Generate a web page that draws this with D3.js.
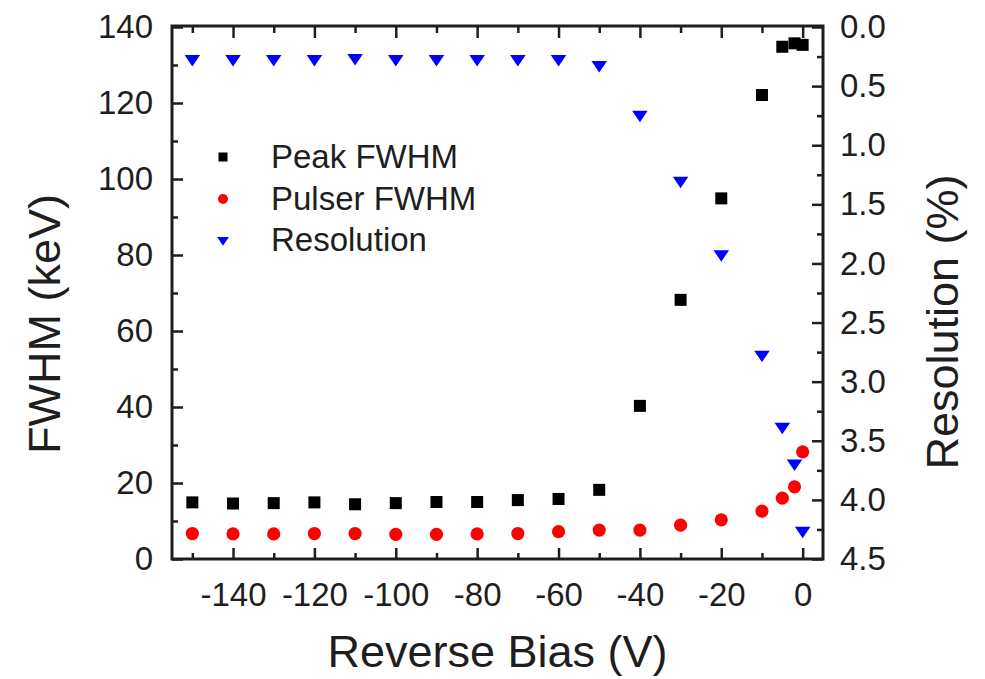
<!DOCTYPE html>
<html>
<head>
<meta charset="utf-8">
<script src="https://cdnjs.cloudflare.com/ajax/libs/d3/7.8.5/d3.min.js"></script>
<style>
  body { margin: 0; background: #fff; }
  text { font-family: "Liberation Sans", Arial, sans-serif; fill: #1e1e1e; }
</style>
</head>
<body>
<div id="chart"></div>
<script>
// data
var bias = [-150, -140, -130, -120, -110, -100, -90, -80, -70, -60, -50, -40, -30, -20, -10, -5, -2, 0];
var peakFWHM = [14.9, 14.6, 14.7, 14.9, 14.4, 14.7, 15.0, 15.0, 15.5, 15.8, 18.2, 40.3, 68.2, 94.9, 122.1, 134.8, 135.7, 135.3];
var pulserFWHM = [6.7, 6.6, 6.6, 6.7, 6.7, 6.5, 6.5, 6.6, 6.7, 7.2, 7.6, 7.6, 8.9, 10.3, 12.6, 16.0, 19.0, 28.2];
var resolution = [0.27, 0.27, 0.27, 0.27, 0.26, 0.27, 0.27, 0.27, 0.27, 0.27, 0.32, 0.74, 1.30, 1.92, 2.77, 3.38, 3.69, 4.26];

var xTicks = [-140, -120, -100, -80, -60, -40, -20, 0];
var xMinor = [-150, -130, -110, -90, -70, -50, -30, -10];
var yTicks = [0, 20, 40, 60, 80, 100, 120, 140];
var yMinor = [10, 30, 50, 70, 90, 110, 130];
var y2Ticks = [0, 0.5, 1, 1.5, 2, 2.5, 3, 3.5, 4, 4.5];
var y2Minor = [0.25, 0.75, 1.25, 1.75, 2.25, 2.75, 3.25, 3.75, 4.25];

var legendNames = ["Peak FWHM", "Pulser FWHM", "Resolution"];

var svgWidth = 985;
var svgHeight = 679;

var plot = { left: 172, right: 823, top: 27, bottom: 559 };

var svg = d3.select("#chart")
  .append("svg")
  .attr("width", svgWidth)
  .attr("height", svgHeight);

var x = d3.scaleLinear().domain([-155, 5]).range([plot.left, plot.right]);
var y = d3.scaleLinear().domain([0, 140]).range([plot.bottom, plot.top]);
var y2 = d3.scaleLinear().domain([0, 4.5]).range([plot.top, plot.bottom]);

var tickFont = 33;

function styleAxis(g) {
  g.select(".domain").remove();
  g.selectAll(".tick line").attr("stroke", "#1e1e1e").attr("stroke-width", 2.5);
  g.selectAll(".tick text").attr("font-size", tickFont).attr("fill", "#1e1e1e")
    .style("font-family", "Liberation Sans, Arial, sans-serif");
}

// bottom
svg.append("g")
  .attr("transform", `translate(0, ${plot.bottom})`)
  .call(d3.axisBottom(x).tickValues(xTicks).tickSize(-11).tickPadding(24).tickFormat(d => String(d)))
  .call(styleAxis);
svg.append("g")
  .attr("transform", `translate(0, ${plot.bottom})`)
  .call(d3.axisBottom(x).tickValues(xMinor).tickSize(-6).tickFormat(""))
  .call(styleAxis);
// top
svg.append("g")
  .attr("transform", `translate(0, ${plot.top})`)
  .call(d3.axisTop(x).tickValues(xTicks).tickSize(-11).tickFormat(""))
  .call(styleAxis);
svg.append("g")
  .attr("transform", `translate(0, ${plot.top})`)
  .call(d3.axisTop(x).tickValues(xMinor).tickSize(-6).tickFormat(""))
  .call(styleAxis);
// left
svg.append("g")
  .attr("transform", `translate(${plot.left}, 0)`)
  .call(d3.axisLeft(y).tickValues(yTicks).tickSize(-11).tickPadding(19).tickFormat(d => String(d)))
  .call(styleAxis);
svg.append("g")
  .attr("transform", `translate(${plot.left}, 0)`)
  .call(d3.axisLeft(y).tickValues(yMinor).tickSize(-6).tickFormat(""))
  .call(styleAxis);
// right
svg.append("g")
  .attr("transform", `translate(${plot.right}, 0)`)
  .call(d3.axisRight(y2).tickValues(y2Ticks).tickSize(-11).tickPadding(17).tickFormat(d3.format(".1f")))
  .call(styleAxis);
svg.append("g")
  .attr("transform", `translate(${plot.right}, 0)`)
  .call(d3.axisRight(y2).tickValues(y2Minor).tickSize(-6).tickFormat(""))
  .call(styleAxis);

// frame
svg.append("rect")
  .attr("x", plot.left)
  .attr("y", plot.top - 1)
  .attr("width", plot.right - plot.left)
  .attr("height", plot.bottom - plot.top + 1)
  .attr("fill", "none")
  .attr("stroke", "#1e1e1e")
  .attr("stroke-width", 3);

var points = bias.map(function(b, i) {
  return { bias: b, peak: peakFWHM[i], pulser: pulserFWHM[i], res: resolution[i] };
});

// peak FWHM squares
svg.selectAll(".sq")
  .data(points)
  .enter()
  .append("rect")
  .attr("x", d => x(d.bias) - 6)
  .attr("y", d => y(d.peak) - 6)
  .attr("width", 12)
  .attr("height", 12)
  .attr("fill", "#000");

// pulser circles
svg.selectAll(".ci")
  .data(points)
  .enter()
  .append("circle")
  .attr("cx", d => x(d.bias))
  .attr("cy", d => y(d.pulser))
  .attr("r", 6.6)
  .attr("fill", "#ff0000");

// resolution triangles (down)
var tri = d3.symbol().type(d3.symbolTriangle).size(105);
svg.selectAll(".tr")
  .data(points)
  .enter()
  .append("path")
  .attr("d", tri)
  .attr("transform", d => `translate(${x(d.bias)}, ${y2(d.res)}) rotate(180) scale(1, 0.85)`)
  .attr("fill", "#0000ff");

// legend
var legendY = [157, 199, 240];
var lg = svg.append("g");
lg.append("rect").attr("x", 223 - 4.5).attr("y", legendY[0] - 4.5).attr("width", 9).attr("height", 9).attr("fill", "#000");
lg.append("circle").attr("cx", 223).attr("cy", legendY[1]).attr("r", 5).attr("fill", "#ff0000");
lg.append("path").attr("d", d3.symbol().type(d3.symbolTriangle).size(60))
  .attr("transform", `translate(223, ${legendY[2]}) rotate(180) scale(1, 0.85)`)
  .attr("fill", "#0000ff");
lg.selectAll("text")
  .data(legendNames)
  .enter()
  .append("text")
  .attr("x", 271)
  .attr("y", (d, i) => legendY[i] + 11)
  .attr("font-size", 33)
  .text(d => d);

// axis titles
svg.append("text")
  .attr("x", (plot.left + plot.right) / 2)
  .attr("y", 667)
  .attr("text-anchor", "middle")
  .attr("font-size", 45)
  .text("Reverse Bias (V)");

svg.append("text")
  .attr("transform", "translate(60, 324) rotate(-90)")
  .attr("text-anchor", "middle")
  .attr("font-size", 45)
  .text("FWHM (keV)");

svg.append("text")
  .attr("transform", "translate(958, 322) rotate(-90)")
  .attr("text-anchor", "middle")
  .attr("font-size", 45)
  .text("Resolution (%)");
</script>
</body>
</html>
